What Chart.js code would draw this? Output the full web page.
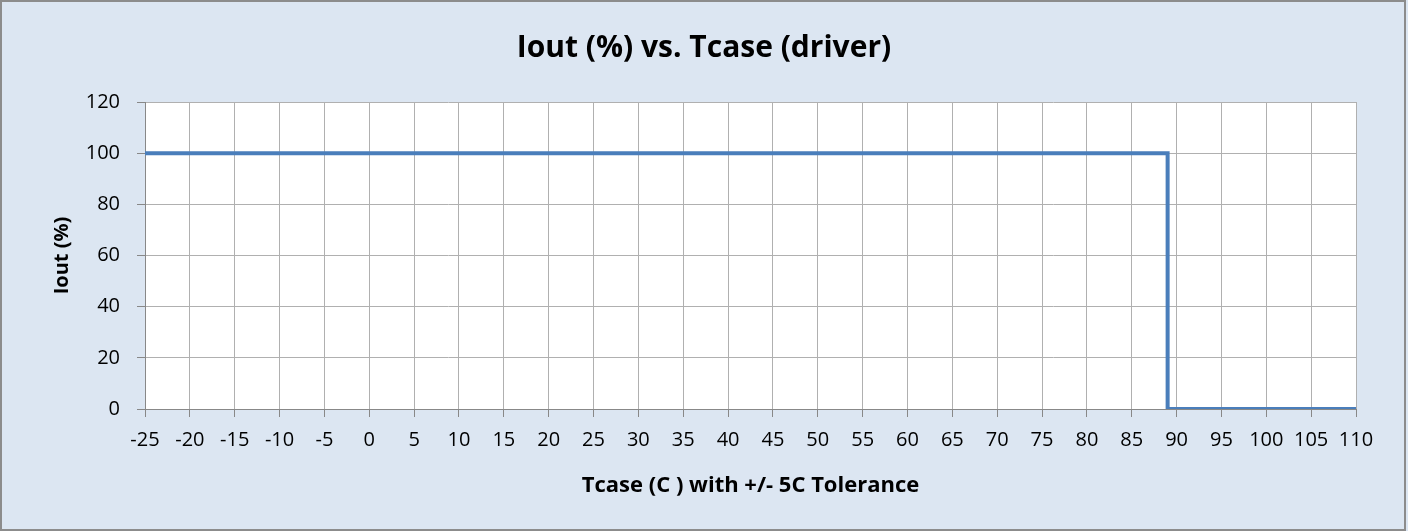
<!DOCTYPE html>
<html>
<head>
<meta charset="utf-8">
<script src="https://cdn.jsdelivr.net/npm/chart.js@4"></script>
<style>
  html, body { margin: 0; padding: 0; background: #dce6f2; }
  #wrap { width: 1408px; height: 531px; position: relative; }
</style>
</head>
<body>
<div id="wrap"><canvas id="myChart"></canvas></div>
<script>
// Iout vs Tcase derating curve (step at ~89 C)
const tcase = [-25, 89, 89, 110];
const iout = [100, 100, 0, 0];
const xTicks = [-25, 110, 5];   // min, max, step
const yTicks = [0, 120, 20];

const chartTitle = 'Iout (%) vs. Tcase (driver)';
const xTitle = 'Tcase (C ) with +/- 5C Tolerance';
const yTitle = 'Iout (%)';

const points = tcase.map(function (t, i) {
    return { x: t, y: iout[i] };
});

// paint the light blue frame + white plot area + grey border
const bgPlugin = {
    id: 'bg',
    beforeDraw: function (chart) {
        const ctx = chart.ctx;
        const a = chart.chartArea;
        ctx.save();
        ctx.fillStyle = '#dce6f2';
        ctx.fillRect(0, 0, chart.width, chart.height);
        ctx.fillStyle = '#ffffff';
        ctx.fillRect(a.left, a.top, a.right - a.left, a.bottom - a.top);
        ctx.strokeStyle = '#8c8c8c';
        ctx.lineWidth = 2;
        ctx.strokeRect(1, 1, chart.width - 4, chart.height - 2);
        ctx.restore();
    }
};

const ctx = document.getElementById('myChart').getContext('2d');
const myChart = new Chart(ctx, {
    type: 'scatter',
    data: {
        datasets: [{
            label: 'Iout',
            data: points,
            showLine: true,
            borderColor: '#4a7ebb',
            borderWidth: 4,
            pointRadius: 0,
            tension: 0,
            fill: false
        }]
    },
    options: {
        responsive: true,
        maintainAspectRatio: false,
        animation: false,
        layout: { padding: { top: 8, right: 0, left: 0, bottom: 0 } },
        plugins: {
            legend: { display: false },
            tooltip: { enabled: false },
            title: {
                display: true,
                text: chartTitle,
                color: '#000000',
                font: { family: 'Open Sans', size: 30, weight: 'bold', lineHeight: 1.2 },
                padding: { top: 22, bottom: 36 }
            }
        },
        scales: {
            x: {
                type: 'linear',
                min: xTicks[0],
                max: xTicks[1],
                afterFit: function (scale) { scale.height = 122; },
                ticks: {
                    stepSize: xTicks[2],
                    autoSkip: false,
                    maxRotation: 0,
                    color: '#000000',
                    padding: 11,
                    font: { family: 'Open Sans', size: 20 }
                },
                grid: { color: '#b0b0b0', lineWidth: 1, tickLength: 8, tickColor: '#888888' },
                border: { color: '#888888', width: 1 },
                title: {
                    display: true,
                    text: xTitle,
                    color: '#000000',
                    font: { family: 'Open Sans', size: 22, weight: 'bold', lineHeight: 1.2 },
                    padding: { top: 0, bottom: 32 }
                }
            },
            y: {
                min: yTicks[0],
                max: yTicks[1],
                afterFit: function (scale) { scale.width = 145; },
                ticks: {
                    stepSize: yTicks[2],
                    color: '#000000',
                    padding: 17,
                    font: { family: 'Open Sans', size: 20 }
                },
                grid: { color: '#b0b0b0', lineWidth: 1, tickLength: 8, tickColor: '#888888' },
                border: { color: '#888888', width: 1 },
                title: {
                    display: true,
                    text: yTitle,
                    color: '#000000',
                    font: { family: 'Open Sans', size: 20, weight: 'bold', lineHeight: 1.2 },
                    padding: { top: 50, bottom: 0 }
                }
            },
            // empty right-hand spacer so the title stays centred on the whole frame
            yRight: {
                position: 'right',
                min: yTicks[0],
                max: yTicks[1],
                afterFit: function (scale) { scale.width = 52; },
                ticks: { display: false },
                grid: { display: false },
                border: { display: false }
            }
        }
    },
    plugins: [bgPlugin]
});
</script>
</body>
</html>
